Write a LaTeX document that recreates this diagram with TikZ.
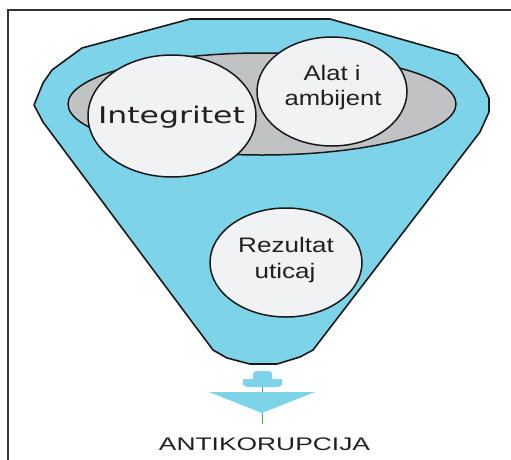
\documentclass[tikz,border=0pt]{standalone}
\usepackage{fontspec}
\setmainfont{Liberation Sans}
\newfontfamily\titlefont{DejaVu Sans}
\usetikzlibrary{shapes.geometric}

\definecolor{funnelblue}{HTML}{7DD3E8}
\definecolor{ringgray}{HTML}{C1C2C4}
\definecolor{bubblefill}{HTML}{F1F2F4}
\definecolor{inkgray}{HTML}{231F20}
\definecolor{stemgreen}{HTML}{3DB54A}

\tikzset{
  frameline/.style={draw=black!80, line width=1.6},
  funnelbody/.style={draw=black!90, line width=1.6, fill=funnelblue, line join=round},
  ring/.style={ellipse, draw=black!90, line width=1.5, fill=ringgray, inner sep=0},
  bubble/.style={ellipse, draw=black!90, line width=1.5, fill=bubblefill, inner sep=0},
  caption/.style={anchor=base, inner sep=0, text=inkgray},
  arrowpart/.style={fill=funnelblue}
}

\begin{document}
\begin{tikzpicture}[x=1pt, y=-1pt]
\useasboundingbox (0,0) rectangle (511,459);
\clip (0,0) rectangle (511,459);

% outer frame (runs past the right and bottom edges)
\draw[frameline] (8,10) rectangle (540,490);

% funnel body
\draw[funnelbody] (190,19) -- (330,19) -- (457,55) -- (480,80) -- (489,98)
  -- (489,112) -- (480,132) -- (313,350) -- (300,357) -- (277,364)
  -- (250,364) -- (227,358) -- (213,350) -- (43,122) -- (34,105)
  -- (43,83) -- (52,70) -- (82,48) -- cycle;

% grey ring inside the mouth of the funnel
\node[ring, minimum width=388, minimum height=102] (ring) at (262,104) {};

% bubbles
\node[bubble, minimum width=150, minimum height=109] (alat) at (332,91.5) {};
\node[bubble, minimum width=168, minimum height=122] (integ) at (172,116) {};
\node[bubble, minimum width=152, minimum height=109] (rezultat) at (286,262.5) {};

% bubble texts
\node[caption] (tinteg) at (171.5,123)
  {\titlefont\fontsize{23}{27}\selectfont\scalebox{1.37}[1]{Integritet}};
\node[caption] (talat1) at (332,80)
  {\fontsize{21}{25}\selectfont\scalebox{1.22}[1]{Alat i}};
\node[caption] (talat2) at (333,105)
  {\fontsize{21}{25}\selectfont\scalebox{1.22}[1]{ambijent}};
\node[caption] (trez1) at (286,252)
  {\fontsize{21}{25}\selectfont\scalebox{1.24}[1]{Rezultat}};
\node[caption] (trez2) at (285,278)
  {\fontsize{21}{25}\selectfont\scalebox{1.24}[1]{uticaj}};

% outlet arrow below the funnel
\coordinate (stemtop) at (262,379);
\coordinate (stembot) at (262,424);
\draw[stemgreen, line width=0.8] (stemtop) -- (stembot);
\fill[arrowpart, rounded corners=3] (253,381) -- (253,371) -- (272,371) -- (272,381) -- cycle;
\fill[arrowpart] (243,379) -- (282,379) -- (282,385) -- (278,387) -- (247,387) -- (243,385) -- cycle;
\fill[arrowpart] (209,392) -- (315,392) -- (262,413) -- cycle;

% result label
\node[caption] (anti) at (264.5,450)
  {\fontsize{18.2}{22}\selectfont\scalebox{1.45}[1]{ANTIKORUPCIJA}};
\end{tikzpicture}
\end{document}
